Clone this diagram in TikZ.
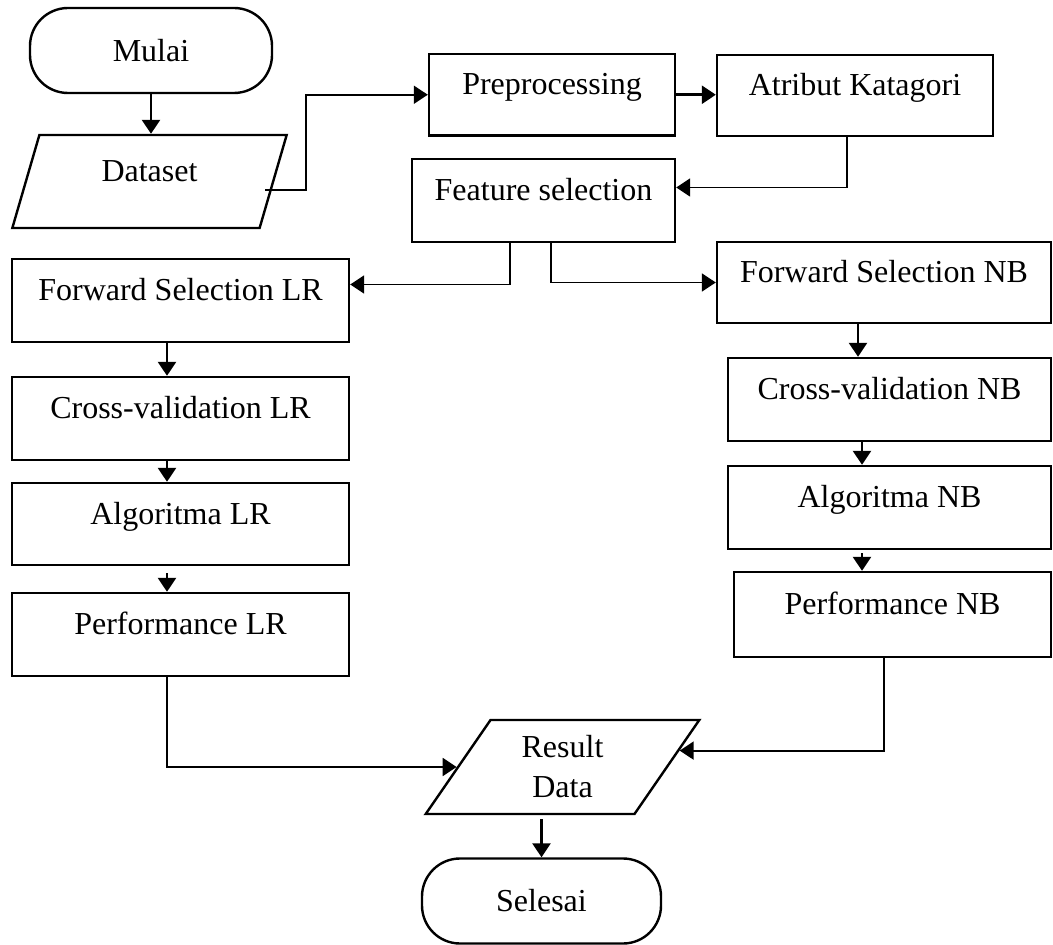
\documentclass[tikz,border=0pt]{standalone}
\usepackage{fontspec}
\setmainfont{Liberation Serif}
\usetikzlibrary{arrows.meta,shapes.geometric,calc}
\begin{document}
\begin{tikzpicture}[x=0.5pt,y=-0.5pt,
  txt/.style={font=\fontsize{16}{20}\selectfont},
  box/.style={txt,draw,line width=1.2pt,rectangle,inner sep=0pt,text height=5pt,text depth=5pt},
  term/.style={txt,draw,line width=1.2pt,rectangle,rounded corners=19pt,inner sep=0pt,minimum height=42.5pt},
  io/.style={txt,draw,line width=1.2pt,trapezium,trapezium left angle=59.5,trapezium right angle=120.5,trapezium stretches=true,inner sep=0pt},
  arr/.style={line width=1.3pt,-{Triangle[length=7pt,width=9pt]}},
  elbow/.style={line width=0.9pt,-{Triangle[length=7pt,width=9pt]}}
]
\useasboundingbox (0,0) rectangle (1053,945);

% top
\node[term,minimum width=121pt] (mulai) at (151,50.5) {Mulai};
\node[io,minimum width=137.5pt,minimum height=46.5pt,text height=5pt,text depth=5pt] (ds) at (149.5,181.5) {Dataset};
\node[box,minimum width=123pt,minimum height=40.75pt] (pre) at (552,94.75) {Preprocessing};
\node[box,minimum width=138pt,minimum height=40.5pt] (atr) at (855,95.5) {Atribut Katagori};
\node[box,minimum width=131.5pt,minimum height=41.5pt] (fs) at (543.5,200.5) {Feature selection};

% LR column
\node[box,minimum width=168.5pt,minimum height=41.5pt] (fslr) at (180.5,300.5) {Forward Selection LR};
\node[box,minimum width=168.5pt,minimum height=41.5pt] (cvlr) at (180.5,418.5) {Cross-validation LR};
\node[box,minimum width=168.5pt,minimum height=41pt] (alr) at (180.5,524) {Algoritma LR};
\node[box,minimum width=168.5pt,minimum height=41.5pt] (plr) at (180.5,634.5) {Performance LR};

% NB column
\node[box,minimum width=167pt,minimum height=40.5pt] (fsnb) at (884,282.5) {Forward Selection NB};
\node[box,minimum width=161.5pt,minimum height=41.5pt] (cvnb) at (889.5,399.5) {Cross-validation NB};
\node[box,minimum width=161.5pt,minimum height=41.5pt] (anb) at (889.5,507.5) {Algoritma NB};
\node[box,minimum width=158.5pt,minimum height=42.5pt] (pnb) at (892.5,614.5) {Performance NB};

% bottom
\node[io,minimum width=137.5pt,minimum height=47pt,align=center] (rd) at (562.5,767) {Result\\Data};
\node[term,minimum width=119.5pt] (sel) at (541.5,901) {Selesai};

% connectors
\draw[arr] (mulai.south) -- (mulai.south |- ds.north);
\coordinate (dsout) at (265,190);
\draw[elbow] (dsout) -- ++(41,0) |- (pre.west);
\draw[arr] (pre.east) -- (pre.east -| atr.west);
\draw[elbow] ([xshift=-4pt]atr.south) |- ([yshift=6.5pt]fs.east);
\draw[elbow] ([xshift=-16.75pt]fs.south) |- ([yshift=8pt]fslr.east);
\draw[elbow] ([xshift=3.75pt]fs.south) |- (fsnb.west);

\draw[arr] ([xshift=-6.75pt]fslr.south) -- ([xshift=-6.75pt]cvlr.north);
\draw[arr] ([xshift=-6.75pt]cvlr.south) -- ([xshift=-6.75pt]alr.north);
\draw[arr,shorten <=3.5pt] ([xshift=-6.75pt]alr.south) -- ([xshift=-6.75pt]plr.north);

\draw[arr] ([xshift=-13pt]fsnb.south) -- ([xshift=-13pt]fsnb.south |- cvnb.north);
\draw[arr] ([xshift=-13.75pt]cvnb.south) -- ([xshift=-13.75pt]anb.north);
\draw[arr,shorten <=1.5pt] ([xshift=-13.75pt]anb.south) -- ([xshift=-13.75pt]anb.south |- pnb.north);

\draw[elbow] ([xshift=-6.75pt]plr.south) |- (rd.west);
\draw[elbow] ([xshift=-4.25pt]pnb.south) |- ($(rd.top right corner)!0.33!(rd.bottom right corner)$);
\draw[arr,shorten <=2pt] (sel.north |- rd.south) -- (sel.north);
\end{tikzpicture}
\end{document}
